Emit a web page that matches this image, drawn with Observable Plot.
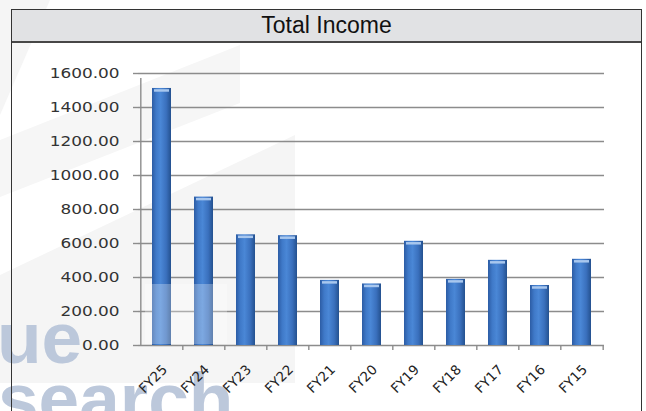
<!DOCTYPE html>
<html><head><meta charset="utf-8">
<script src="https://cdn.jsdelivr.net/npm/d3@7"></script>
<script src="https://cdn.jsdelivr.net/npm/@observablehq/plot@0.6"></script>
<style>
html,body{margin:0;padding:0;background:#fff;width:646px;height:411px;overflow:hidden;position:relative}
#bg{position:absolute;left:0;top:0;z-index:0}
#chart{position:absolute;left:0;top:44px;z-index:1}
#wash{position:absolute;left:0;top:0;z-index:2;pointer-events:none}
#frame{position:absolute;left:11px;top:9px;width:631px;height:420px;border:1.5px solid #333;border-bottom:none;box-sizing:border-box;z-index:3}
#title{height:31px;background:#e1e2e4;border-bottom:2px solid #474747;font:23px "Liberation Sans",Arial,sans-serif;color:#111;text-align:center;line-height:31px}
</style></head>
<body>
<svg id="bg" width="646" height="411">
  <polygon points="0,0 50,0 0,115" fill="#f5f5f5"/>
  <polygon points="0,197 240,103 240,45 0,140" fill="#f6f6f6"/>
  <polygon points="0,275 295,135 295,383 0,383" fill="#f5f5f5"/>
  <text x="-3" y="363" font-family="Liberation Sans" font-weight="bold" font-size="73" fill="#bcc8db">ue</text>
  <text x="-2" y="424" font-family="Liberation Sans" font-weight="bold" font-size="73" fill="#bcc8db">search</text>
</svg>
<div id="chart"></div>
<svg id="wash" width="646" height="411"><rect x="145" y="284" width="82" height="60" fill="#fff" fill-opacity="0.28"/></svg>
<div id="frame"><div id="title">Total Income</div></div>
<script>
const years = ["FY25","FY24","FY23","FY22","FY21","FY20","FY19","FY18","FY17","FY16","FY15"];
const income = [1512, 873, 651, 646, 383, 362, 613, 389, 501, 353, 507];
const yTicks = [0, 200, 400, 600, 800, 1000, 1200, 1400, 1600];
const data = years.map((year, i) => ({year, value: income[i]}));

const W = 646, H = 367, mL = 138, mR = 42, mT = 29, mB = 66;
const step = (W - mL - mR) / years.length;
const axisGray = "#8c8c8c";
const yStretch = 1.27, xStretch = 1.3;

const plot = Plot.plot({
  width: W, height: H,
  marginLeft: mL, marginRight: mR, marginTop: mT, marginBottom: mB,
  style: {background: "transparent", fontFamily: "DejaVu Sans", fontSize: "13.3px", color: "#333", overflow: "visible"},
  x: {domain: years, paddingInner: 0.55, paddingOuter: 0.275, axis: null},
  y: {domain: [0, 1600], axis: null},
  marks: [
    Plot.ruleY(yTicks, {stroke: axisGray, strokeWidth: 1.4}),
    Plot.axisY(yTicks, {tickSize: 5, tickPadding: 14, tickFormat: d3.format(".2f"), stroke: axisGray, fill: "#333", strokeWidth: 1.4, label: null, fontSize: 13.3}),
    Plot.ruleX([years[0]], {y1: 0, y2: 1600, insetBottom: -5, dx: -step / 2, stroke: axisGray, strokeWidth: 1.4}),
    Plot.ruleX(years.slice(1), {y1: 0, y2: 0, insetBottom: -5, dx: -step / 2, stroke: axisGray, strokeWidth: 1.4}),
    Plot.ruleX([years[years.length - 1]], {y1: 0, y2: 0, insetBottom: -5, dx: step / 2, stroke: axisGray, strokeWidth: 1.4}),
    Plot.barY(data, {x: "year", y: "value", fill: "url(#barGrad)"}),
    Plot.tickY(data, {x: "year", y: "value", stroke: "#a8c7ee", strokeWidth: 2.5, dy: 2, insetLeft: 2, insetRight: 2}),
    Plot.text(data, {x: "year", frameAnchor: "bottom", text: "year", rotate: -45, textAnchor: "end", lineAnchor: "bottom", dx: 6, dy: 25, fill: "#222", fontSize: 13.5, ariaLabel: "x-labels"})
  ]
});
plot.insertAdjacentHTML("afterbegin",
  '<defs><linearGradient id="barGrad" x1="0" x2="1" y1="0" y2="0">' +
  '<stop offset="0" stop-color="#2c5ca4"/><stop offset="0.22" stop-color="#3f79c8"/>' +
  '<stop offset="0.45" stop-color="#4a87d6"/><stop offset="0.75" stop-color="#3a70bd"/>' +
  '<stop offset="1" stop-color="#24518f"/></linearGradient></defs>');
document.getElementById("chart").appendChild(plot);

// widen glyphs horizontally, as in the reference
function stretch(sel, s) {
  plot.querySelectorAll(sel).forEach(t => {
    const tr = t.getAttribute("transform");
    if (tr && tr.includes("rotate")) {
      t.setAttribute("transform", tr.replace("rotate", `scale(${s},1) rotate`));
    } else if (tr) {
      t.setAttribute("transform", tr + ` scale(${s},1)`);
    } else {
      const x = +(t.getAttribute("x") || 0), y = +(t.getAttribute("y") || 0);
      t.removeAttribute("x"); t.removeAttribute("y");
      t.setAttribute("transform", `translate(${x},${y}) scale(${s},1)`);
    }
  });
}
stretch('g[aria-label="y-axis tick label"] text', yStretch);
stretch('g[aria-label="x-labels"] text', xStretch);
</script>
</body></html>
